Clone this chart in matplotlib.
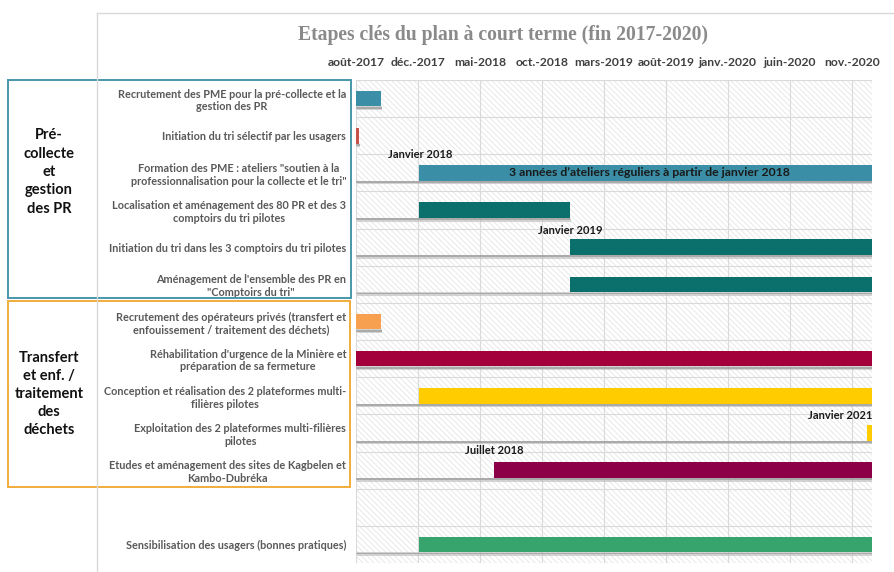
import matplotlib
matplotlib.use("Agg")
import matplotlib.pyplot as plt
import matplotlib.dates as mdates
from matplotlib.patches import Rectangle
from matplotlib.lines import Line2D
from datetime import date

# ---------------- data ----------------
tasks = [
    "Recrutement des PME pour la pré-collecte et la\ngestion des PR",
    "Initiation du tri sélectif par les usagers",
    "Formation des PME : ateliers \"soutien à la\nprofessionnalisation pour la collecte et le tri\"",
    "Localisation et aménagement des 80 PR et des 3\ncomptoirs du tri pilotes",
    "Initiation du tri dans les 3 comptoirs du tri pilotes",
    "Aménagement de l'ensemble des PR en\n\"Comptoirs du tri\"",
    "Recrutement des opérateurs privés (transfert et\nenfouissement / traitement des déchets)",
    "Réhabilitation d'urgence de la Minière et\npréparation de sa fermeture",
    "Conception et réalisation des 2 plateformes multi-\nfilières pilotes",
    "Exploitation des 2 plateformes multi-filières\npilotes",
    "Etudes et aménagement des sites de Kagbelen et\nKambo-Dubréka",
    "",
    "Sensibilisation des usagers (bonnes pratiques)",
]
starts = [
    date(2017, 8, 1), date(2017, 8, 1), date(2018, 1, 1), date(2018, 1, 1),
    date(2019, 1, 1), date(2019, 1, 1), date(2017, 8, 1), date(2017, 8, 1),
    date(2018, 1, 1), date(2020, 12, 20), date(2018, 7, 1), None,
    date(2018, 1, 1),
]
ends = [
    date(2017, 10, 1), date(2017, 8, 9), date(2021, 1, 1), date(2019, 1, 1),
    date(2021, 1, 1), date(2021, 1, 1), date(2017, 10, 1), date(2021, 1, 1),
    date(2021, 1, 1), date(2021, 1, 1), date(2021, 1, 1), None,
    date(2021, 1, 1),
]
colors = [
    "#3a8ea6", "#c9504b", "#3a8ea6", "#0b6f6c", "#0b6f6c", "#0b6f6c",
    "#f7a04f", "#a3003b", "#ffcc00", "#ffcc00", "#8c0047", None, "#36a46c",
]
tick_labels = ["août-2017", "déc.-2017", "mai-2018", "oct.-2018", "mars-2019",
               "août-2019", "janv.-2020", "juin-2020", "nov.-2020"]
axis_start = date(2017, 8, 1)
axis_end = date(2021, 1, 1)
tick_step_days = 150

annotations = [  # (text, date, row position, horizontal alignment)
    ("Janvier 2018", date(2018, 1, 3), 1.5, "center"),
    ("Janvier 2019", date(2019, 1, 1), 3.55, "center"),
    ("Janvier 2021", date(2021, 1, 1), 8.52, "right"),
    ("Juillet 2018", date(2018, 7, 1), 9.47, "center"),
]
bar_text = "3 années d’ateliers réguliers à partir de janvier 2018"
bar_text_row = 2

group1 = "Pré-\ncollecte\net\ngestion\ndes PR"
group2 = "Transfert\net enf. /\ntraitement\ndes\ndéchets"

# ---------------- figure ----------------
W, H = 895, 572
fig = plt.figure(figsize=(W / 100, H / 100), dpi=100)
FONT = "Lato"
plt.rcParams["font.family"] = [FONT, "DejaVu Sans"]
plt.rcParams["hatch.linewidth"] = 0.5
plt.rcParams["hatch.color"] = "#e0e0e0"

def fx(x):
    return x / W

def fy(y):
    return 1 - y / H

ax_l, ax_r, ax_t, ax_b = 356, 872, 80, 563
ax = fig.add_axes([fx(ax_l), fy(ax_b), fx(ax_r - ax_l), (ax_b - ax_t) / H])

# chart-area border lines
fig.add_artist(Line2D([fx(97), fx(97)], [fy(13), fy(572)], color="#d9d9d9", lw=1.0))
fig.add_artist(Line2D([fx(97), fx(895)], [fy(13), fy(13)], color="#d9d9d9", lw=1.0))

# hatched plot background
bg = Rectangle((0, 0), 1, 1, transform=ax.transAxes, facecolor="white",
               edgecolor="#e0e0e0", hatch="\\\\\\\\\\\\", lw=0, zorder=0)
ax.add_patch(bg)

x0 = mdates.date2num(axis_start)
x1 = mdates.date2num(axis_end)
rows = list(range(len(tasks)))

BAR_H = 0.42
for i in rows:
    if starts[i] is None:
        continue
    s = mdates.date2num(starts[i])
    e = mdates.date2num(ends[i])
    # soft shadow strip under the row (offset series + bar shadow)
    ax.barh(i + BAR_H / 2 + 0.05, e - x0, left=x0 + 2, height=0.1,
            color="#b8b8b8", alpha=0.6, zorder=2, lw=0)
    ax.barh(i + BAR_H / 2 + 0.035, e - x0, left=x0 + 1, height=0.05,
            color="#9a9a9a", alpha=0.7, zorder=2, lw=0)
    ax.barh(i, e - s, left=s, height=BAR_H, color=colors[i], zorder=3)

for txt, d, r, ha in annotations:
    ax.text(mdates.date2num(d), r, txt, ha=ha, va="center", fontsize=8,
            fontweight="bold", color="#1a1a1a", zorder=5)

bs = mdates.date2num(starts[bar_text_row]); be = mdates.date2num(ends[bar_text_row])
ax.text((bs + be) / 2 + 10, bar_text_row, bar_text, ha="center", va="center",
        fontsize=8.8, fontweight="bold", color="#1a1a1a", zorder=5)

ax.set_xlim(x0, x1)
ax.set_ylim(len(tasks) - 0.5, -0.5)
ticks = [x0 + tick_step_days * k for k in range(len(tick_labels))]
ax.set_xticks(ticks)
ax.set_xticklabels(tick_labels, fontsize=8.7, fontweight="bold", color="#404040")
ax.xaxis.tick_top()
ax.tick_params(axis="x", length=0, pad=9)
ax.set_yticks(rows)
ax.set_yticklabels(tasks, fontsize=7.8, fontweight="bold", color="#595959")
for t in ax.get_yticklabels():
    t.set_multialignment("center")
ax.tick_params(axis="y", length=0, pad=7)
ax.set_yticks([r - 0.5 for r in rows] + [len(tasks) - 0.5], minor=True)
ax.tick_params(axis="y", which="minor", length=0)
ax.grid(axis="x", which="major", color="#dadada", lw=0.8, zorder=1)
ax.grid(axis="y", which="minor", color="#dadada", lw=0.8, zorder=1)
ax.set_axisbelow(True)
for sp in ax.spines.values():
    sp.set_visible(False)

# title
fig.text(fx(503), fy(35), "Etapes clés du plan à court terme (fin 2017-2020)",
         family=["Liberation Serif", "DejaVu Serif"], fontweight="bold",
         fontsize=14.1, color="#8a8a8a", ha="center", va="center")

# group boxes
fig.add_artist(Rectangle((fx(8), fy(298)), fx(351 - 8), (298 - 80) / H,
                         fill=False, edgecolor="#4796ab", lw=1.4))
fig.add_artist(Rectangle((fx(8), fy(487)), fx(350 - 8), (487 - 301) / H,
                         fill=False, edgecolor="#f2ad3c", lw=1.4))
fig.text(fx(49), fy(172), group1, ha="center", va="center", fontsize=10.5,
         fontweight="bold", color="#111111", linespacing=1.4)
fig.text(fx(49), fy(394), group2, ha="center", va="center", fontsize=10.5,
         fontweight="bold", color="#111111", linespacing=1.35)

fig.savefig("out.png", dpi=100)
